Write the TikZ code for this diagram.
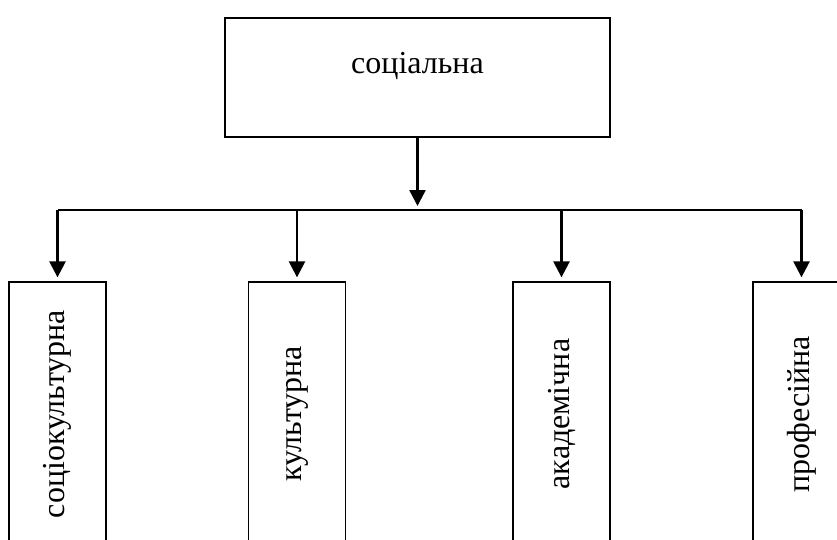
\documentclass[tikz,border=0pt]{standalone}
\usepackage{fontspec}
\setmainfont{Liberation Serif}
\usepackage{graphicx}
\usetikzlibrary{arrows.meta}
\tikzset{
  topbox/.style={draw=black, line width=1.5pt, rectangle, minimum width=385pt, minimum height=119pt, inner sep=0pt},
  subbox/.style={draw=black, line width=1.3pt, rectangle, minimum width=97pt, minimum height=264pt, inner sep=0pt, font=\fontsize{32}{38}\selectfont},
  lbl/.style={inner sep=0pt, font=\fontsize{32}{38}\selectfont},
  conn/.style={line width=2.5pt},
  arr/.style={line width=2.5pt, -{Triangle[width=16pt,length=16pt]}, shorten >=4pt}
}
\begin{document}
\begin{tikzpicture}[x=1pt,y=-1pt]
\useasboundingbox (0,0) rectangle (837,540);
\node[topbox] (top) at (417.5,77.5) {};
\node[lbl, anchor=base] (toplabel) at (417.5,74) {соціальна};
\node[subbox] (b1) at (57.5,414) {\rotatebox{90}{соціокультурна}};
\node[subbox] (b2) at (297,414) {\rotatebox{90}{культурна}};
\node[subbox] (b3) at (561.5,414) {\rotatebox{90}{академічна}};
\node[subbox] (b4) at (801.5,414) {\rotatebox{90}{професійна}};
\coordinate (j) at (417.5,210);
\coordinate (l) at (57.5,210);
\coordinate (r) at (801.5,210);
\coordinate (j2) at (297,210);
\coordinate (j3) at (561.5,210);
\draw[arr] (top.south) -- (j);
\draw[conn] (l) -- (r);
\draw[arr] (l) -- (b1.north);
\draw[arr] (j2) -- (b2.north);
\draw[arr] (j3) -- (b3.north);
\draw[arr] (r) -- (b4.north);
\end{tikzpicture}
\end{document}
